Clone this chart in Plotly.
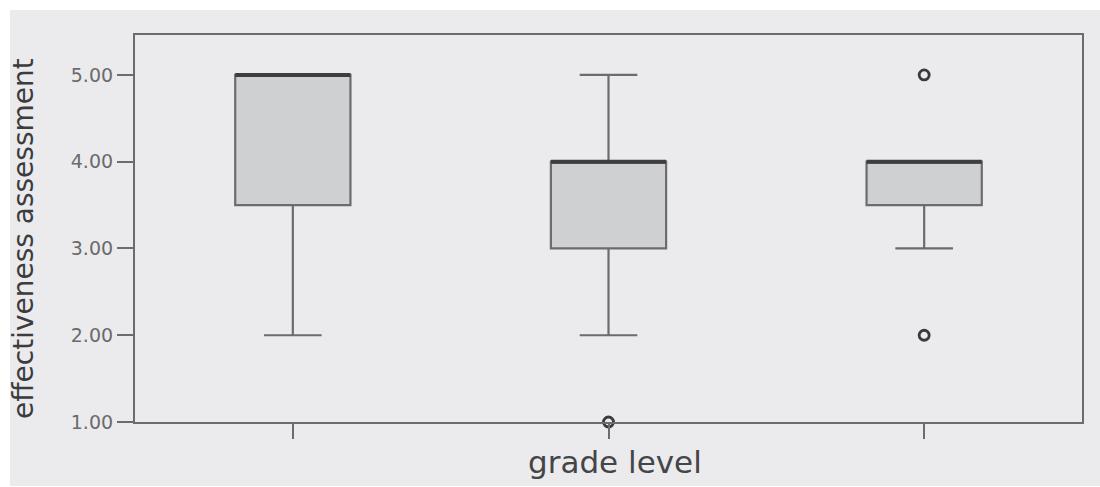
import plotly.graph_objects as go

# ---- data ----
groups = [0, 1, 2]
q1 = [3.5, 3.0, 3.5]
median = [5.0, 4.0, 4.0]
q3 = [5.0, 4.0, 4.0]
lower_whisker = [2.0, 2.0, 3.0]
upper_whisker = [5.0, 5.0, 4.0]
outlier_x = [1, 2, 2]
outlier_y = [1.0, 2.0, 5.0]
y_ticks = [1, 2, 3, 4, 5]

y_title = "effectiveness assessment"
x_title = "grade level"

BOX_W = 0.365
LINE = "#6c6c6e"
FILL = "#cfd0d2"
BG = "#ebebed"

fig = go.Figure()
fig.add_trace(go.Box(
    x=groups, q1=q1, median=median, q3=q3,
    lowerfence=lower_whisker, upperfence=upper_whisker,
    width=BOX_W, whiskerwidth=0.5,
    fillcolor=FILL, line=dict(color=LINE, width=2.2),
    boxpoints=False, showlegend=False, hoverinfo="skip",
))

# thick median lines (SPSS style)
for g, m in zip(groups, median):
    fig.add_trace(go.Scatter(
        x=[g - BOX_W / 2, g + BOX_W / 2], y=[m, m], mode="lines",
        line=dict(color="#3e3e40", width=4), showlegend=False,
        hoverinfo="skip", cliponaxis=False,
    ))

fig.add_trace(go.Scatter(
    x=outlier_x, y=outlier_y, mode="markers",
    marker=dict(symbol="circle-open", size=10, color="#3a3a3c",
                line=dict(width=2.8, color="#3a3a3c")),
    showlegend=False, hoverinfo="skip", cliponaxis=False,
))

W, H = 1100, 487
L, R, T, B = 135, 18, 35, 65
pw, ph = W - L - R, H - T - B

fig.update_layout(
    width=W, height=H,
    margin=dict(l=L, r=R, t=T, b=B, pad=0),
    paper_bgcolor="white", plot_bgcolor=BG,
    shapes=[dict(type="rect", xref="paper", yref="paper", layer="below",
                 x0=(10 - L) / pw, x1=(W + 2 - L) / pw,
                 y0=(-B + 1) / ph, y1=(H - 10 - B) / ph,
                 fillcolor=BG, line=dict(width=0))],
    annotations=[
        dict(text=y_title, xref="paper", yref="paper",
             x=(23 - L) / pw, y=(H - B - 239) / ph, textangle=-90,
             showarrow=False, xanchor="center", yanchor="middle",
             font=dict(family="DejaVu Sans", size=28, color="#3c3c3e")),
        dict(text=x_title, xref="paper", yref="paper",
             x=(615 - L) / pw, y=(H - B - 462) / ph,
             showarrow=False, xanchor="center", yanchor="middle",
             font=dict(family="DejaVu Sans", size=31, color="#454547")),
    ],
    xaxis=dict(range=[-0.5, 2.5], tickmode="array", tickvals=groups,
               ticktext=["", "", ""], ticks="outside", ticklen=15,
               tickwidth=2, tickcolor=LINE, showline=True, linecolor=LINE,
               linewidth=2.2, mirror=True, showgrid=False, zeroline=False),
    yaxis=dict(range=[1, 5.46], tickmode="array", tickvals=y_ticks,
               tickformat=".2f", ticks="outside", ticklen=16, tickwidth=2,
               tickcolor=LINE, showline=True, linecolor=LINE, linewidth=2.2,
               mirror=True, showgrid=False, zeroline=False,
               tickfont=dict(family="DejaVu Sans", size=19, color="#6a6a6c")),
)

fig.write_html(
    "out.html",
    config={"displayModeBar": False},
    post_script="document.body.style.margin='0';document.body.style.overflow='hidden';",
)
